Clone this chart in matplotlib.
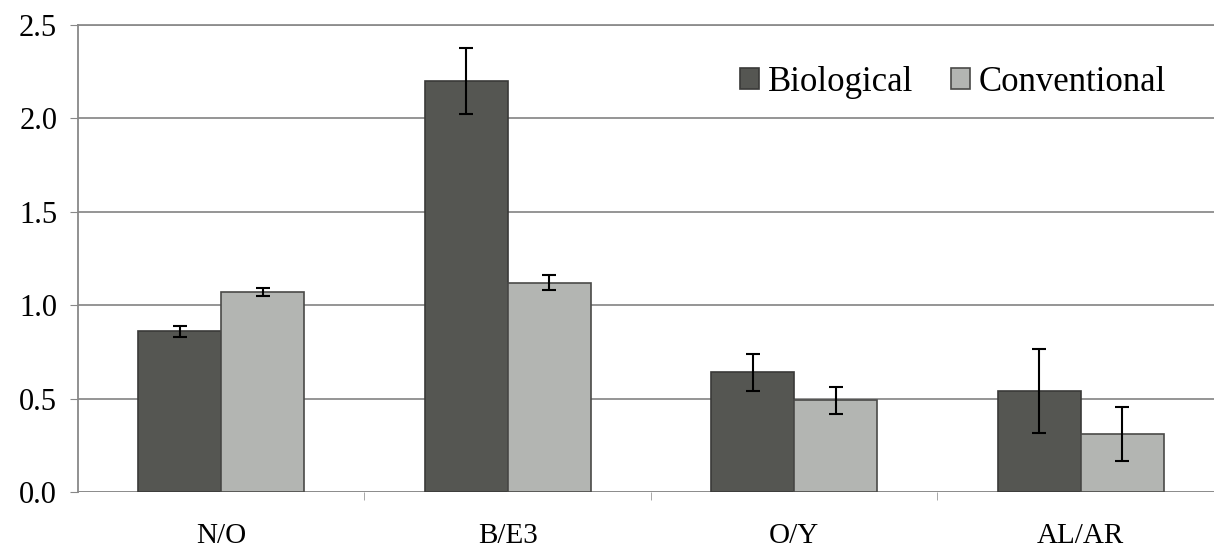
import numpy as np
import matplotlib.pyplot as plt

categories = ['N/O', 'B/E3', 'O/Y', 'AL/AR']
biological = [0.86, 2.20, 0.64, 0.54]
biological_err = [0.03, 0.175, 0.10, 0.225]
conventional = [1.07, 1.12, 0.49, 0.31]
conventional_err = [0.02, 0.04, 0.07, 0.145]

plt.rcParams['font.family'] = ['Liberation Serif', 'DejaVu Serif']

fig = plt.figure(figsize=(12.14, 5.53), dpi=100)
ax = fig.add_axes([78 / 1214, 1 - 492 / 553, 1146 / 1214, 467 / 553])

x = np.arange(len(categories))
w = 0.29
ax.bar(x - w / 2, biological, w, color='#555652', edgecolor='#3a3a38', linewidth=1.2,
       label='Biological', zorder=2)
ax.bar(x + w / 2, conventional, w, color='#b3b5b2', edgecolor='#4a4a48', linewidth=1.2,
       label='Conventional', zorder=2)
ax.errorbar(x - w / 2, biological, yerr=biological_err, fmt='none', ecolor='black',
            elinewidth=1.5, capsize=5, capthick=1.5, zorder=3)
ax.errorbar(x + w / 2, conventional, yerr=conventional_err, fmt='none', ecolor='black',
            elinewidth=1.5, capsize=5, capthick=1.5, zorder=3)

ax.set_xlim(-0.5, len(categories) - 0.5)
ax.set_ylim(0, 2.5)
ax.set_yticks(np.arange(0, 2.51, 0.5))
ax.set_yticklabels([f'{v:.1f}' for v in np.arange(0, 2.51, 0.5)], fontsize=22)
ax.set_xticks(x)
ax.set_xticklabels(categories, fontsize=21)
ax.set_xticks(np.arange(0.5, len(categories) - 0.5, 1), minor=True)
ax.tick_params(axis='x', which='major', length=0, pad=22)
ax.tick_params(axis='x', which='minor', length=6, color='#999999', direction='out')
ax.tick_params(axis='y', length=6, color='#888888', pad=9)

ax.grid(axis='y', color='#8c8c8c', linewidth=1.3, zorder=0)
for s in ['top', 'right', 'bottom']:
    ax.spines[s].set_visible(False)
ax.spines['left'].set_color('#888888')
ax.spines['left'].set_linewidth(1.3)
ax.axhline(0, color='#8c8c8c', linewidth=1.3, zorder=1)
ax.axhline(2.5, color='#8c8c8c', linewidth=1.3, zorder=1, clip_on=False)

ax.legend(loc='upper right', bbox_to_anchor=(0.977, 0.98), ncol=2, frameon=False,
          fontsize=25, handlelength=0.55, handleheight=0.55, handletextpad=0.25,
          columnspacing=1.1)

fig.savefig('out.png', dpi=100)
